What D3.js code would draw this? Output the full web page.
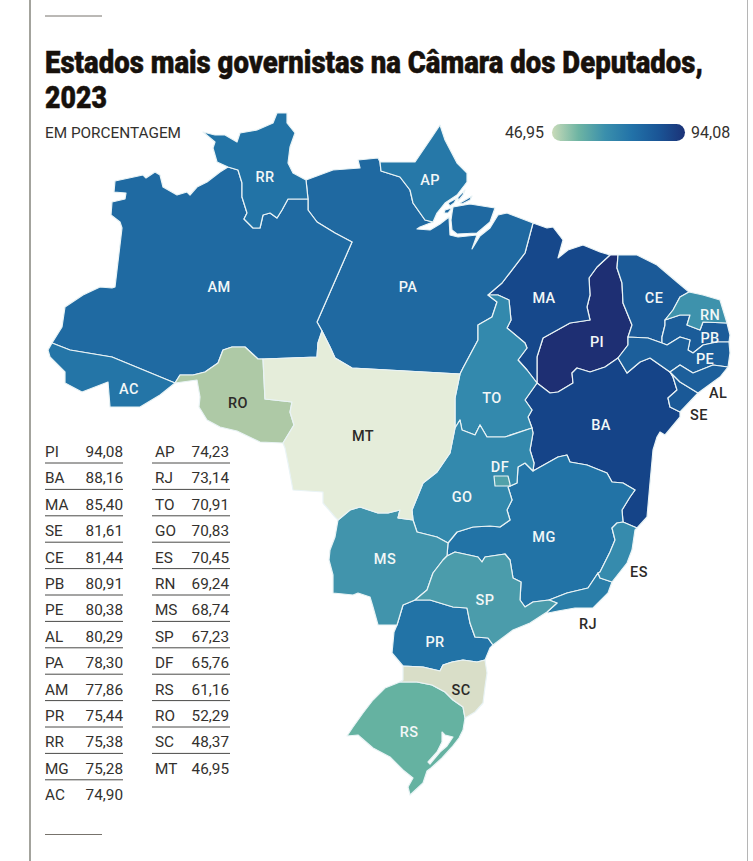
<!DOCTYPE html>
<html>

<head>
    <meta charset='utf-8'>
    <title>Estados mais governistas</title>
    <script src="https://d3js.org/d3.v7.min.js" charset="utf-8"></script>
    <style>
        html, body { margin: 0; padding: 0; background: #fff; }
        svg { display: block; }
        text { font-family: Roboto, "Noto Sans", sans-serif; fill: #33312e; }
        .title { font-weight: 900; font-size: 31px; fill: #17110c; stroke: #17110c; stroke-width: .5px; }
        .state { stroke: #e9f3f5; stroke-width: 1.2px; stroke-linejoin: round; fill-rule: evenodd; }
        .code { font-size: 14.5px; font-weight: 500; text-anchor: middle; letter-spacing: .4px; }
        .row { font-size: 15.3px; }
        .legend { font-size: 16px; }
    </style>
</head>

<body>
    <svg id="chart" width="753" height="861"></svg>

    <script>
        // table order, as printed
        var stateCodes = ["PI", "BA", "MA", "SE", "CE", "PB", "PE", "AL", "PA", "AM", "PR", "RR", "MG", "AC",
            "AP", "RJ", "TO", "GO", "ES", "RN", "MS", "SP", "DF", "RS", "RO", "SC", "MT"];
        var stateValues = [94.08, 88.16, 85.40, 81.61, 81.44, 80.91, 80.38, 80.29, 78.30, 77.86, 75.44, 75.38, 75.28, 74.90,
            74.23, 73.14, 70.91, 70.83, 70.45, 69.24, 68.74, 67.23, 65.76, 61.16, 52.29, 48.37, 46.95];
        var darkCodes = ["RO", "MT", "SC", "AL", "SE", "ES", "RJ"];

        var colorStops = [46.95, 48.37, 52.29, 61.16, 67.23, 70.9, 75.3, 78.3, 81, 85.4, 88.16, 94.08];
        var colorRange = ["#e5edda", "#d9dec8", "#aec9a6", "#65b2a1", "#4b9cab", "#3389ad", "#2273a6", "#1f69a1", "#1b5c99", "#16488b", "#154488", "#1e2f73"];
        var legendStops = ["#c9dbb9", "#6db4a3", "#3a8fac", "#2272a8", "#1a5596", "#1b3277"];

        var borders = {
            rr_out: "228,167 217,162 213,148 215,142 203,132 215,135 225,135 237,142 240,133 257,130 273,123 277,113 287,113 287,123 295,133 290,147 288,163 293,173 306,180",
            rr_pa: "306,180 308,199",
            rr_am: "308,199 288,199 282,210 277,218 270,213 263,215 260,228 253,228 244,219 247,213 242,197 242,183 238,170 228,167",
            am_out: "228,167 220,172 207,182 197,187 190,195 187,192 177,195 163,187 160,175 155,172 146,178 143,175 115,181 114,192 126,193 125,199 112,202 111,215 120,222 122,228 115,287 112,288 100,287 83,295 65,307 62,327 52,343",
            ac_am: "52,343 70,350 112,357 175,383",
            ac_out: "52,343 48,350 50,357 65,372 65,383 82,392 108,382 110,407 140,407 160,395 175,383",
            am_ro: "175,383 180,375 193,375 205,372 218,363 223,350 232,347 245,347 258,359 263,359",
            am_mt: "263,359 317,357 318,343 322,331",
            am_pa: "322,331 317,322 352,242 335,233 317,222 308,210 308,199",
            ro_mt: "263,359 265,399 292,402 290,412 294,425 283,443",
            ro_out: "283,443 260,442 237,431 220,427 207,420 199,407 200,397 197,380 175,383",
            pa_mt: "322,331 330,347 335,358 352,368 460,374",
            mt_to: "460,374 455,398 455,428",
            mt_go: "455,428 450,453 437,472 423,483 412,510 413,520",
            mt_ms: "413,520 398,518 400,510 388,513 378,513 360,507 350,510 338,520",
            mt_out: "338,520 335,517 323,503 323,492 293,490 288,463 285,448 283,443",
            pa_n: "306,180 333,170 360,168 358,160 378,158 380,162",
            ap_pa: "380,162 381,171 400,177 410,190 413,203 425,220 433,222",
            ap_coast: "433,222 437,213 445,203 457,195 467,182 467,173 457,163 445,140 440,125 432,137 415,162 397,162 380,162",
            pa_coast: "433,222 420,227 417,229 430,230 440,224 449,217 450,235 458,237 477,235 472,249 480,236 490,228 498,215 507,213 520,218 533,223",
            pa_ma: "533,223 525,253 502,283 488,295",
            pa_to: "488,295 497,302 492,317 478,325 478,340 463,368 460,374",
            to_go: "455,428 460,420 462,430 475,435 480,425 487,437 505,437 532,428",
            to_ba: "532,428 528,417 532,410 525,400 537,383",
            ma_to: "537,383 527,370 518,360 527,348 525,343 507,328 511,320 509,300 498,295 488,295",
            ma_coast: "533,223 547,228 553,227 563,240 558,258 568,250 583,245 600,252 610,255",
            ma_pi: "610,255 597,267 589,278 590,295 587,307 590,320 570,323 543,338 537,357 537,383",
            pi_coast: "610,255 618,255",
            pi_ce: "618,255 617,268 622,283 623,303 632,325 628,337",
            pi_pe: "628,337 628,345 618,358",
            pi_ba: "618,358 605,367 590,372 577,368 572,373 573,383 558,392 550,393 537,383",
            ce_coast: "618,255 637,255 657,265 677,282 689,292",
            ce_rn: "689,292 680,297 673,310 665,320",
            ce_pb: "665,320 665,325 662,337 662,343",
            ce_pe: "662,343 648,338 628,337",
            rn_coast: "689,292 703,295 720,300 727,323",
            rn_pb: "727,323 703,322 700,330 687,325 690,315 680,315 665,320",
            pb_coast: "727,323 730,335 729,342",
            pb_pe: "729,342 717,342 703,345 693,353 688,350 690,340 680,337 667,345 662,343",
            pe_coast: "729,342 730,353 728,367",
            pe_al: "728,367 713,365 693,373 680,365 670,372",
            pe_ba: "670,372 650,358 640,362 627,373 618,358",
            al_coast: "728,367 720,377 698,393",
            al_se: "698,393 680,382 670,372",
            se_coast: "698,393 680,412",
            se_ba: "680,412 670,407 668,398 677,390 673,377 670,372",
            ba_coast: "680,412 680,417 665,435 660,432 657,437 653,450 650,483 647,517 637,528",
            ba_es: "637,528 623,522",
            ba_mg: "623,522 622,510 630,497 635,490 623,483 612,482 607,473 587,465 570,462 567,455 558,457 533,471",
            ba_go: "533,471 534,463 530,450 533,433 532,428",
            go_ms: "413,520 417,532 437,537 448,543",
            go_mg: "448,543 457,532 473,527 490,526 500,527 510,520 507,510 512,500 508,487 517,483 518,467 525,463 533,471",
            ms_mg: "448,543 447,556",
            ms_sp: "447,556 443,560 433,573 427,590 415,600",
            ms_pr: "415,600 403,605 397,625",
            ms_out: "397,625 378,625 373,607 370,597 358,593 353,595 333,593 333,575 329,560 330,550 335,537 338,520",
            mg_es: "623,522 617,523 612,528 615,540 610,552 600,572 598,573",
            mg_rj: "598,573 588,588 567,593 549,600",
            mg_sp: "549,600 533,602 525,607 520,600 521,582 513,578 510,560 505,554 485,557 482,562 478,557 455,552 447,556",
            es_coast: "637,528 635,530 632,550 627,563 612,582",
            es_rj: "612,582 600,578 598,573",
            rj_coast: "612,582 608,593 593,608 575,608 558,611 548,613 547,612",
            rj_sp: "547,612 557,603 549,600",
            sp_coast: "547,612 530,623 513,630 493,645",
            sp_pr: "493,645 488,638 475,637 470,623 467,608 453,607 430,600 415,600",
            pr_coast: "493,645 490,648 485,660",
            pr_sc: "485,660 477,662 463,660 452,662 443,665 440,671 423,667 403,666",
            pr_out: "403,666 392,653 394,632 397,625",
            sc_coast: "485,660 487,673 485,687 483,703 475,712 465,718",
            sc_rs: "465,718 463,707 453,700 445,692 432,685 417,682 400,682",
            sc_out: "400,682 403,680 403,666",
            rs_coast: "465,718 463,730 459,738 452,747 442,758 431,768 427,771 423,783 410,795 408,787 413,778 403,770 390,757 373,748 358,735 347,736 353,727 363,713 373,700 385,688 400,682"
        };

        // extra rings with no shared border
        var marajo = "453,207 470,204 495,208 490,222 477,233 457,234 452,230 451,220 452,213";
        var deltaIslets = [
            "448,203 457,198 454,203 450,206",
            "458,197 465,190 463,195 458,201",
            "460,203 472,196 470,200 462,204",
            "445,210 452,208 448,213 444,213"
        ];
        var lagoon = "442,732 445,735 453,737 447,746 440,752 430,764 428,762 437,752 442,742";
        var dfBox = "494,476 508,476 510,484 510,486 495,486";

        var stateRings = {
            RR: [["rr_out", "rr_pa", "rr_am"]],
            AM: [["am_out", "ac_am", "am_ro", "am_mt", "am_pa", "rr_am"]],
            AC: [["ac_out", "-ac_am"]],
            RO: [["am_ro", "ro_mt", "ro_out"]],
            MT: [["am_mt", "pa_mt", "mt_to", "mt_go", "mt_ms", "mt_out", "-ro_mt"]],
            PA: [["pa_n", "ap_pa", "pa_coast", "pa_ma", "pa_to", "-pa_mt", "am_pa", "-rr_pa"]],
            AP: [["ap_pa", "ap_coast"]],
            MA: [["ma_coast", "ma_pi", "ma_to", "-pa_ma"]],
            TO: [["pa_to", "mt_to", "to_go", "to_ba", "ma_to"]],
            PI: [["pi_coast", "pi_ce", "pi_pe", "pi_ba", "-ma_pi"]],
            CE: [["ce_coast", "ce_rn", "ce_pb", "ce_pe", "-pi_ce"]],
            RN: [["rn_coast", "rn_pb", "-ce_rn"]],
            PB: [["pb_coast", "pb_pe", "-ce_pb", "-rn_pb"]],
            PE: [["pe_coast", "pe_al", "pe_ba", "-pi_pe", "-ce_pe", "-pb_pe"]],
            AL: [["al_coast", "al_se", "-pe_al"]],
            SE: [["se_coast", "se_ba", "-al_se"]],
            BA: [["-pe_ba", "-se_ba", "ba_coast", "ba_es", "ba_mg", "ba_go", "to_ba", "-pi_ba"]],
            GO: [["-to_go", "mt_go", "go_ms", "go_mg", "ba_go"]],
            MS: [["-mt_ms", "go_ms", "ms_mg", "ms_sp", "ms_pr", "ms_out"]],
            MG: [["go_mg", "-ba_mg", "mg_es", "mg_rj", "mg_sp", "-ms_mg"]],
            ES: [["-ba_es", "es_coast", "es_rj", "-mg_es"]],
            RJ: [["-es_rj", "rj_coast", "rj_sp", "-mg_rj"]],
            SP: [["-mg_sp", "-rj_sp", "sp_coast", "sp_pr", "-ms_sp"]],
            PR: [["-sp_pr", "pr_coast", "pr_sc", "pr_out", "-ms_pr"]],
            SC: [["-pr_sc", "sc_coast", "sc_rs", "sc_out"]],
            RS: [["-sc_rs", "rs_coast"]]
        };

        var labelAnchors = {
            RR: [265, 177], AP: [430, 180], AM: [219, 287], PA: [408, 287], MA: [544, 298], CE: [654, 298],
            RN: [710, 315], PB: [710, 338], PE: [705, 359], PI: [597, 342], AC: [129, 389], RO: [238, 403],
            TO: [492, 398], BA: [601, 425], MT: [363, 436], DF: [500, 467], GO: [462, 497], MG: [544, 537],
            MS: [385, 559], SP: [485, 600], PR: [435, 642], SC: [461, 690], RS: [409, 732],
            AL: [718, 393], SE: [699, 415], ES: [639, 572], RJ: [588, 624]
        };

        function parseChain(str) {
            return str.split(" ").map(function (p) { return p.split(",").map(Number); });
        }

        function buildRing(keys) {
            var ring = [];
            keys.forEach(function (key) {
                var pts = key[0] === "-" ? parseChain(borders[key.slice(1)]).reverse() : parseChain(borders[key]);
                ring = ring.concat(pts);
            });
            return ring;
        }

        function closeRing(str) {
            var pts = parseChain(str);
            pts.push(pts[0]);
            return pts;
        }

        // squeeze a line of text to the width it has in print
        function addTitle(label, y, width) {
            var t = svg.append("text").attr("class", "title").text(label);
            var sx = width / t.node().getComputedTextLength();
            t.attr("transform", "translate(45," + y + ") scale(" + sx + ",1)");
        }

        var svg = d3.select("#chart");
        var fmt = d3.formatLocale({ decimal: ",", thousands: ".", grouping: [3], currency: ["", ""] }).format(".2f");
        var color = d3.scaleLinear().domain(colorStops).range(colorRange);
        var valueOf = new Map(stateCodes.map(function (c, i) { return [c, stateValues[i]]; }));

        // page frame and short rules
        svg.append("rect").attr("width", 753).attr("height", 861).attr("fill", "#fff");
        svg.append("line").attr("x1", 30).attr("x2", 30).attr("y1", 0).attr("y2", 861).attr("stroke", "#8c8c84").attr("stroke-width", 1.6);
        svg.append("line").attr("x1", 747.5).attr("x2", 747.5).attr("y1", 0).attr("y2", 861).attr("stroke", "#b5b5b5").attr("stroke-width", 1);
        [16, 834.5].forEach(function (y) {
            svg.append("line").attr("x1", 45).attr("x2", 102).attr("y1", y).attr("y2", y).attr("stroke", "#77736c").attr("stroke-width", 1);
        });

        // title
        addTitle("Estados mais governistas na Câmara dos Deputados,", 73, 658);
        addTitle("2023", 108, 62);
        svg.append("text").attr("x", 45).attr("y", 138).style("font-size", "15px")
            .attr("textLength", 136).attr("lengthAdjust", "spacingAndGlyphs")
            .text("EM PORCENTAGEM");

        // legend
        var grad = svg.append("defs").append("linearGradient").attr("id", "legendGrad");
        legendStops.forEach(function (c, i) {
            grad.append("stop").attr("offset", i / (legendStops.length - 1)).attr("stop-color", c);
        });
        svg.append("rect").attr("x", 552).attr("y", 124).attr("width", 133).attr("height", 17).attr("rx", 8.5)
            .attr("fill", "url(#legendGrad)");
        var minValue = d3.min(stateValues), maxValue = d3.max(stateValues);
        svg.append("text").attr("class", "legend").attr("x", 544).attr("y", 138).attr("text-anchor", "end").text(fmt(minValue));
        svg.append("text").attr("class", "legend").attr("x", 691).attr("y", 138).text(fmt(maxValue));

        // map
        var projection = d3.geoIdentity();
        var path = d3.geoPath(projection);

        var features = stateCodes.map(function (code) {
            var rings = code === "DF" ? [closeRing(dfBox)] : stateRings[code].map(function (keys) {
                var r = buildRing(keys);
                r.push(r[0]);
                return r;
            });
            var polys = rings.map(function (r) { return [r]; });
            if (code === "PA") {
                polys.push([closeRing(marajo)]);
                deltaIslets.forEach(function (s) { polys.push([closeRing(s)]); });
            }
            if (code === "RS") {
                polys[0].push(closeRing(lagoon));
            }
            return { type: "Feature", id: code, geometry: { type: "MultiPolygon", coordinates: polys } };
        });

        svg.append("g").selectAll("path").data(features).join("path")
            .attr("class", "state")
            .attr("d", path)
            .attr("fill", function (d) { return color(valueOf.get(d.id)); });

        // DF sits on top of GO
        svg.selectAll("path.state").filter(function (d) { return d.id === "DF"; }).raise();

        svg.append("g").selectAll("text").data(stateCodes).join("text")
            .attr("class", "code")
            .attr("x", function (c) { return projection(labelAnchors[c])[0]; })
            .attr("y", function (c) { return projection(labelAnchors[c])[1] + 5; })
            .style("fill", function (c) { return darkCodes.indexOf(c) >= 0 ? "#2c2a28" : "#f2f7f7"; })
            .text(function (c) { return c; });

        // ranking table, two columns
        var columnX = d3.scaleOrdinal().domain([0, 1]).range([45, 152]);
        var rowY = d3.scaleLinear().domain([0, 1]).range([457, 483.4]);
        var splitAt = 14;

        var rows = svg.append("g").selectAll("g").data(stateCodes).join("g")
            .attr("transform", function (c, i) {
                var col = i < splitAt ? 0 : 1;
                var row = i < splitAt ? i : i - splitAt;
                return "translate(" + columnX(col) + "," + rowY(row) + ")";
            });
        rows.append("text").attr("class", "row")
            .attr("x", function (c, i) { return i < splitAt ? 0 : 3; })
            .text(function (c) { return c; });
        rows.append("text").attr("class", "row").attr("x", function (c, i) { return i < splitAt ? 78 : 77; })
            .attr("text-anchor", "end")
            .text(function (c, i) { return fmt(stateValues[i]); });
        rows.filter(function (c, i) { return i !== splitAt - 1 && i !== stateCodes.length - 1; })
            .append("line").attr("x1", 0).attr("x2", 78).attr("y1", 6).attr("y2", 6)
            .attr("stroke", "#4a4a48").attr("stroke-width", 1);
    </script>
</body>

</html>
